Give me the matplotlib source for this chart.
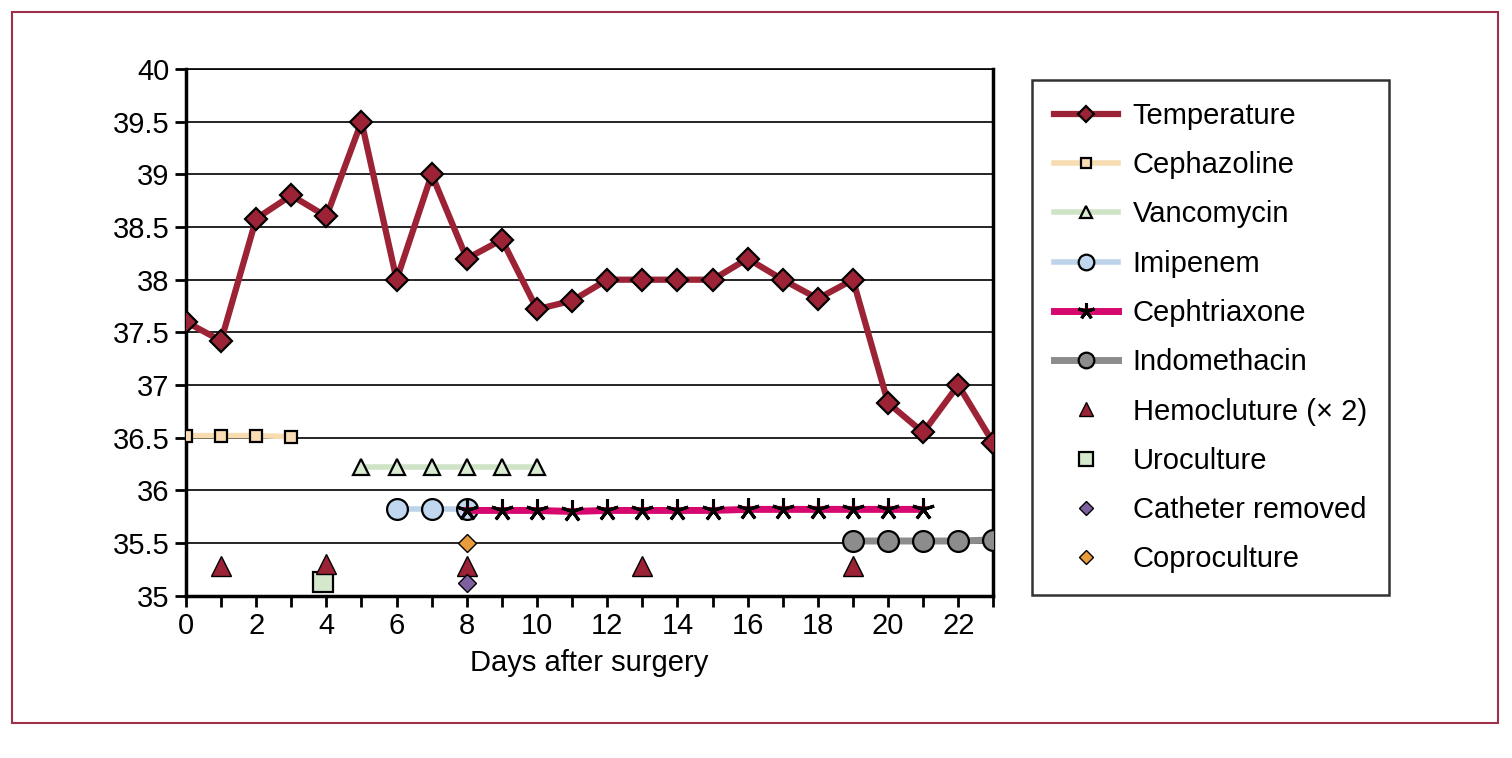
import matplotlib
matplotlib.use('Agg')
import matplotlib.pyplot as plt
from matplotlib.patches import Rectangle
import numpy as np

plt.rcParams['font.family'] = ['Liberation Sans Narrow', 'Liberation Sans', 'DejaVu Sans']

days = list(range(24))
temperature = [37.6, 37.42, 38.58, 38.8, 38.6, 39.5, 38.0, 39.0, 38.2, 38.38, 37.72, 37.8,
               38.0, 38.0, 38.0, 38.0, 38.2, 38.0, 37.82, 38.0, 36.83, 36.55, 37.0, 36.45]

cepha_days = [0, 1, 2, 3]
cepha_vals = [36.52, 36.52, 36.52, 36.51]
vanco_days = [5, 6, 7, 8, 9, 10]
vanco_vals = [36.22, 36.22, 36.22, 36.22, 36.22, 36.22]
imi_days = [6, 7, 8]
imi_vals = [35.82, 35.82, 35.82]
ceftr_days = list(range(8, 22))
ceftr_vals = [35.81, 35.81, 35.81, 35.8, 35.81, 35.81, 35.81, 35.81, 35.82, 35.82, 35.82, 35.82, 35.82, 35.82]
indo_days = [19, 20, 21, 22, 23]
indo_vals = [35.52, 35.52, 35.52, 35.52, 35.53]
hemo_days = [1, 4, 8, 13, 19]
hemo_vals = [35.28, 35.3, 35.28, 35.28, 35.28]
uro_days = [3.9]
uro_vals = [35.13]
cath_days = [8]
cath_vals = [35.12]
copro_days = [8]
copro_vals = [35.5]

fs = 21
fig = plt.figure(figsize=(15.12, 7.58), dpi=100)
ax = fig.add_axes([0.123, 0.214, 0.534, 0.695])

for y in np.arange(35.5, 40.01, 0.5):
    ax.axhline(y, c='k', lw=1.2, zorder=0)

ax.plot(days, temperature, '-D', c='#9b2335', lw=4.5, ms=11, mec='k', mew=1.6, label='Temperature', zorder=5)
ax.plot(cepha_days, cepha_vals, '-s', c='#f7dcb2', lw=4, ms=9, mfc='#f9dcb3', mec='k', mew=1.6,
        label='Cephazoline', zorder=3)
ax.plot(vanco_days, vanco_vals, '-^', c='#cfe4c6', lw=4, ms=12, mfc='#d9ecd2', mec='k', mew=1.6,
        label='Vancomycin', zorder=3)
ax.plot(imi_days, imi_vals, '-o', c='#bdd3ea', lw=4, ms=15, mfc='#c1d7ef', mec='k', mew=1.6,
        label='Imipenem', zorder=3)
ax.plot(ceftr_days, ceftr_vals, '-', c='#d6086f', lw=5, marker=(5, 2, 0), ms=16, mec='k', mew=2.2,
        label='Cephtriaxone', zorder=4)
ax.plot(indo_days, indo_vals, '-o', c='#8c8c8c', lw=5, ms=15, mfc='#8c8c8c', mec='k', mew=1.6,
        label='Indomethacin', zorder=3)
ax.plot(hemo_days, hemo_vals, '^', ms=14, mfc='#9b2335', mec='k', mew=1, ls='none',
        label='Hemocluture (\u00d7 2)', zorder=6)
ax.plot(uro_days, uro_vals, 's', ms=14, mfc='#d4e8cc', mec='k', mew=1.6, ls='none',
        label='Uroculture', zorder=5)
ax.plot(cath_days, cath_vals, 'D', ms=9, mfc='#7e5fa0', mec='k', mew=1, ls='none',
        label='Catheter removed', zorder=6)
ax.plot(copro_days, copro_vals, 'D', ms=9, mfc='#e89c3c', mec='k', mew=1, ls='none',
        label='Coproculture', zorder=6)

ax.set_xlim(0, 23)
ax.set_ylim(35, 40)
ax.set_xticks(range(0, 24))
ax.set_xticklabels([str(d) if d % 2 == 0 else '' for d in range(24)])
ax.set_yticks(np.arange(35, 40.01, 0.5))
ax.set_yticklabels(['35', '35.5', '36', '36.5', '37', '37.5', '38', '38.5', '39', '39.5', '40'])
ax.tick_params(direction='out', length=8, width=2, labelsize=fs, colors='k', pad=4)
for s in ['left', 'bottom', 'right']:
    ax.spines[s].set_linewidth(2.5)
ax.spines['top'].set_linewidth(1.2)
ax.set_xlabel('Days after surgery', fontsize=fs, labelpad=6)

leg = ax.legend(loc='upper left', bbox_to_anchor=(0.6825, 0.8945), bbox_transform=fig.transFigure,
                fontsize=fs, frameon=True, fancybox=False, edgecolor='k', handlelength=2.2,
                labelspacing=0.73, borderpad=0.75, handletextpad=0.5, borderaxespad=0, markerscale=0.75)
leg.get_frame().set_linewidth(1.8)

fig.patches.append(Rectangle((12 / 1512, 1 - 723 / 758), 1486 / 1512, 711 / 758, transform=fig.transFigure,
                             fill=False, edgecolor='#a0304a', lw=1.5))

fig.savefig('out.png', dpi=100)
